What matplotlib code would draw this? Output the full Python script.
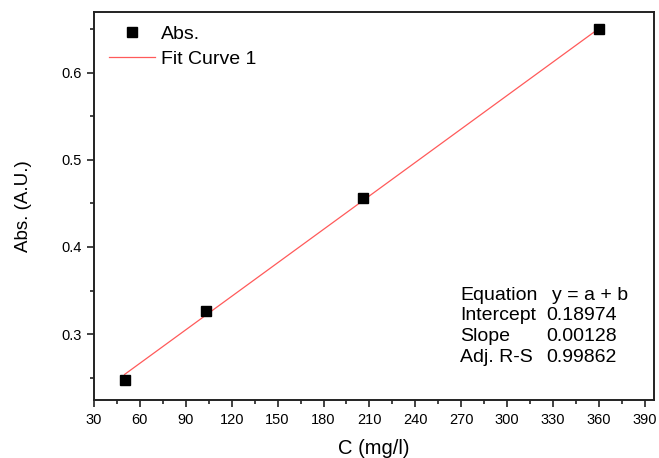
import numpy as np
import matplotlib.pyplot as plt

plt.rcParams['font.family'] = 'Liberation Sans'

# data
conc = [50, 103, 206, 360]
absorb = [0.247, 0.327, 0.456, 0.650]
intercept = 0.18974
slope = 0.00128
adj_r2 = 0.99862

fit_names = ['Equation', 'Intercept', 'Slope', 'Adj. R-S']
fit_values = ['y = a + b', '0.18974', '0.00128', '0.99862']

fig = plt.figure(figsize=(6.59, 4.58), dpi=100)
ax = fig.add_axes([94 / 659, 58 / 458, 560 / 659, 388 / 458])

xfit = np.linspace(min(conc), max(conc) + 2, 50)
ax.plot(xfit, intercept + slope * xfit, color='#ff5a5a', lw=0.9, label='Fit Curve 1', zorder=2)
ax.plot(conc, absorb, 's', color='black', ms=6.5, label='Abs.', zorder=3)

ax.set_xlim(30, 396)
ax.set_ylim(0.2244, 0.6695)
ax.set_xticks(np.arange(30, 391, 30))
ax.set_xticks(np.arange(45, 391, 30), minor=True)
ax.set_yticks([0.3, 0.4, 0.5, 0.6])
ax.set_yticks([0.25, 0.35, 0.45, 0.55, 0.65], minor=True)
ax.tick_params(which='major', direction='out', length=5, width=1.2, labelsize=10.5,
               color='#222222', pad=4)
ax.tick_params(which='minor', direction='out', length=3, width=1.2, color='#222222')
for s in ax.spines.values():
    s.set_linewidth(1.4)
    s.set_color('#222222')

ax.set_xlabel('C (mg/l)', fontsize=14.5, labelpad=9)
ax.set_ylabel('Abs. (A.U.)', fontsize=13.5, labelpad=21)

handles, labels = ax.get_legend_handles_labels()
ax.legend(handles[::-1], labels[::-1], loc='upper left', frameon=False, fontsize=14,
          bbox_to_anchor=(-0.005, 1.01), handlelength=2.4, handletextpad=0.3,
          borderpad=0.4, labelspacing=0.35)

rows_y = [0.2706, 0.2165, 0.1649, 0.1108]
for i, yy in enumerate(rows_y):
    ax.text(0.6536, yy, fit_names[i], transform=ax.transAxes, fontsize=14, va='center')
    x_val = 0.8179 if i == 0 else 0.8071
    ax.text(x_val, yy, fit_values[i], transform=ax.transAxes, fontsize=14, va='center')

plt.savefig('out.png', dpi=100)
